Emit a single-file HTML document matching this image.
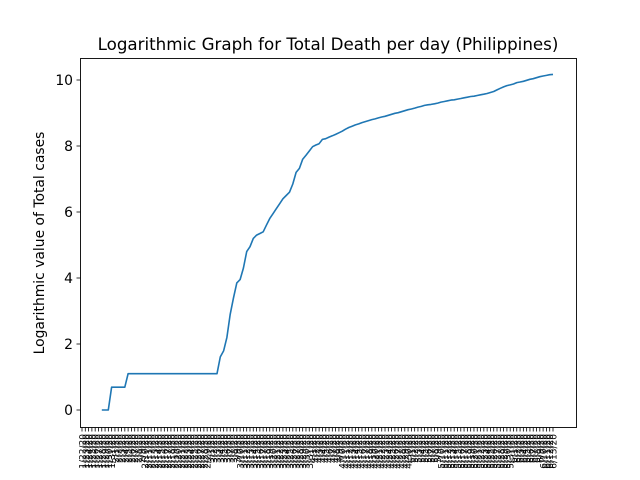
<!DOCTYPE html>
<html><head><meta charset="utf-8"><style>
body{margin:0;background:#fff}
svg{display:block;font-family:"DejaVu Sans","Liberation Sans",sans-serif}
</style></head><body>
<svg id="chart" width="640" height="480">
<rect width="640" height="480" fill="#fff"/>
<text x="328" y="50" text-anchor="middle" font-size="16.7">Logarithmic Graph for Total Death per day (Philippines)</text>
<text transform="translate(44,243) rotate(-90)" text-anchor="middle" font-size="13.9">Logarithmic value of Total cases</text>
<g id="yaxis"></g>
<g id="xaxis"></g>
<path id="line" fill="none" stroke="#1f77b4" stroke-width="1.6" stroke-linejoin="round"/>
<rect x="80.5" y="58.5" width="496" height="369" fill="none" stroke="#000" stroke-width="0.9"/>
</svg>
<script>
const values=[null,null,null,null,null,null,0,0,0,0.69,0.69,0.69,0.69,0.69,
1.1,1.1,1.1,1.1,1.1,1.1,1.1,1.1,1.1,1.1,1.1,1.1,1.1,1.1,1.1,1.1,1.1,1.1,1.1,1.1,1.1,1.1,1.1,1.1,1.1,1.1,1.1,1.1,
1.61,1.79,2.2,2.9,3.4,3.85,3.95,4.3,4.8,4.95,5.2,5.3,5.35,5.4,5.6,5.8,5.95,6.1,6.25,6.4,6.5,6.6,6.85,7.2,7.32,7.6,7.72,7.85,7.98,8.03,8.07,8.2,8.22,8.27,8.31,8.35,8.4,8.45,8.51,8.56,8.6,8.64,8.67,8.71,8.74,8.77,8.8,8.82,8.85,8.88,8.9,8.93,8.96,8.99,9.01,9.04,9.07,9.1,9.12,9.15,9.18,9.2,9.23,9.25,9.26,9.28,9.3,9.33,9.35,9.37,9.39,9.4,9.42,9.44,9.46,9.48,9.5,9.51,9.53,9.55,9.57,9.59,9.62,9.65,9.7,9.75,9.79,9.83,9.85,9.88,9.92,9.94,9.96,9.99,10.02,10.04,10.07,10.1,10.12,10.14,10.16,10.17];
const yTicks=[0,2,4,6,8,10];
const startDate=[2020,0,22];
const categories=[];
for(let i=0;i<values.length;i++){const d=new Date(startDate[0],startDate[1],startDate[2]+i);categories.push((d.getMonth()+1)+'/'+d.getDate()+'/20');}
const NS='http://www.w3.org/2000/svg';
const x0=82,x1=553,yb=410,yt=80;
function xs(i){return x0+i*(x1-x0)/(categories.length-1);}
function ys(v){return yb-(v/10)*(yb-yt);}
const ya=document.getElementById('yaxis');
yTicks.forEach(t=>{
 const l=document.createElementNS(NS,'line');
 
 
 l.setAttribute('x1',76.5);l.setAttribute('x2',80.5);l.setAttribute('y1',ys(t));l.setAttribute('y2',ys(t));l.setAttribute('stroke','#000');l.setAttribute('stroke-width','0.8');ya.appendChild(l);
 const tx=document.createElementNS(NS,'text');
 
 
 tx.setAttribute('x',73);tx.setAttribute('y',ys(t)+5);tx.setAttribute('text-anchor','end');tx.setAttribute('font-size','13.9');tx.textContent=t;ya.appendChild(tx);
});
const xa=document.getElementById('xaxis');
categories.forEach((c,i)=>{
 const x=xs(i);
 const l=document.createElementNS(NS,'line');
 
 
 l.setAttribute('x1',x);l.setAttribute('x2',x);l.setAttribute('y1',427.5);l.setAttribute('y2',431.5);l.setAttribute('stroke','#000');l.setAttribute('stroke-width','0.8');xa.appendChild(l);
 const tx=document.createElementNS(NS,'text');
 
 
 tx.setAttribute('transform','translate('+(x+3.5)+',434) rotate(-90)');tx.setAttribute('text-anchor','end');tx.setAttribute('font-size','9');tx.textContent=c;xa.appendChild(tx);
});
let d='';
values.forEach((v,i)=>{if(v===null)return;d+=(d?'L':'M')+xs(i).toFixed(1)+' '+ys(v).toFixed(1);});
document.getElementById('line').setAttribute('d',d);
</script>
</body></html>
